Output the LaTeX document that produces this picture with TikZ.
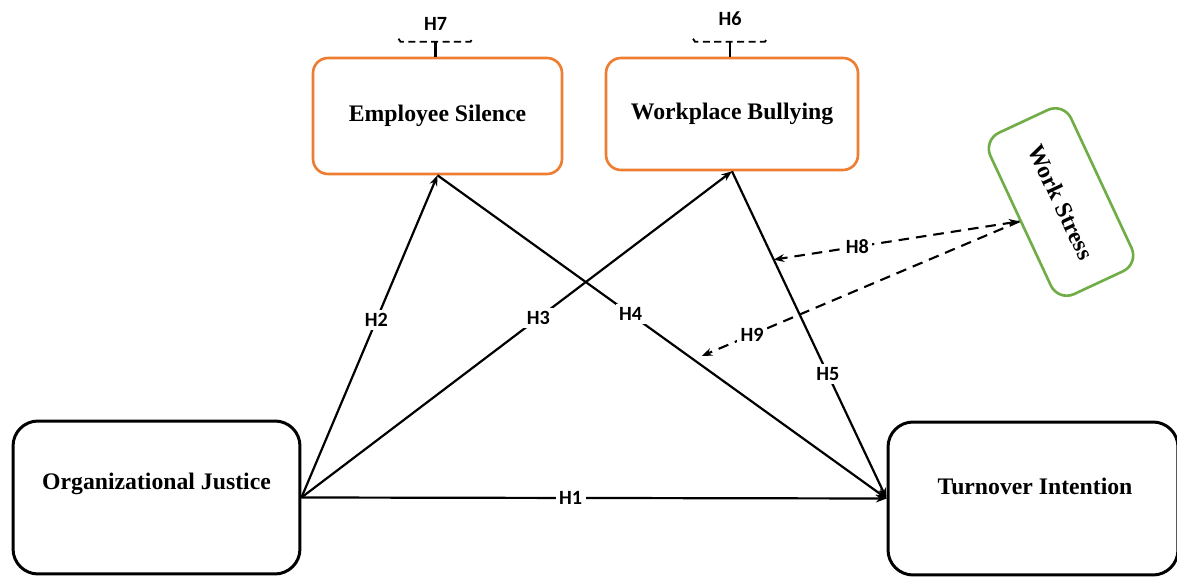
\documentclass[tikz,border=0pt]{standalone}
\usepackage{fontspec}
\setmainfont{Liberation Serif}
\newfontfamily\hfont{Carlito}
\usetikzlibrary{positioning,arrows.meta,calc}
\definecolor{silenceorange}{RGB}{237,125,49}
\definecolor{stressgreen}{RGB}{112,173,71}

\begin{document}
\begin{tikzpicture}[x=0.02cm, y=-0.02cm, >={Stealth[length=6pt,width=4.5pt]},
    boxtext/.style={font=\fontsize{13.5}{16}\selectfont\bfseries, inner sep=0pt},
    mainbox/.style={draw, line width=1.7pt, rounded corners=0.5cm},
    medbox/.style={draw=silenceorange, line width=1.5pt, rounded corners=0.3cm,
      font=\fontsize{13.5}{16}\selectfont\bfseries},
    stressbox/.style={draw=stressgreen, line width=1.5pt, rounded corners=0.35cm,
      minimum width=3.56cm, minimum height=1.78cm,
      font=\fontsize{13.5}{16}\selectfont\bfseries},
    path/.style={line width=1.25pt},
    modpath/.style={line width=1.2pt, dash pattern=on 6pt off 4pt},
    bracket/.style={line width=1pt, dash pattern=on 4pt off 2.5pt},
    hlabel/.style={fill=white, inner sep=2pt, font=\hfont\bfseries\fontsize{11.5}{13}\selectfont}]
  \useasboundingbox (0,0) rectangle (1177,577);

  % constructs
  \node[mainbox, minimum width=5.74cm, minimum height=3.06cm] (oj) at (156.5,497.5) {};
  \node[boxtext] (ojtext) at ($(oj.center)+(0,-14)$) {Organizational Justice};
  \node[mainbox, minimum width=5.8cm, minimum height=3.06cm] (ti) at (1033,498.5) {};
  \node[boxtext] (titext) at ($(ti.center)+(2,-12)$) {Turnover Intention};
  \node[medbox, minimum width=4.98cm, minimum height=2.32cm] (es) at (437.5,116) {Employee Silence};
  \node[medbox, minimum width=5.04cm, minimum height=2.24cm] (wb) at (732,114) {Workplace Bullying};
  \node[stressbox, rotate=-65] (ws) at (1061,202) {Work Stress};

  % direct paths
  \draw[path, ->] (oj.east) -- node[hlabel, pos=0.46] {H1} (ti.west);
  \draw[path, ->] (oj.east) -- node[hlabel, pos=0.55] {H2} (es.south);
  \draw[path, ->] (oj.east) -- node[hlabel, pos=0.55] {H3} (wb.south);
  \draw[path, ->] (es.south) -- node[hlabel, pos=0.43] {H4} (ti.west);
  \draw[path, ->] (wb.south) -- node[hlabel, pos=0.62] {H5} (ti.west);

  % moderation by work stress
  \coordinate (h8end) at ($(wb.south)!0.27!(ti.west)$);
  \coordinate (h9end) at ($(es.south)!0.57!(ti.west)$);
  \draw[modpath, <->] (ws.south) -- node[hlabel, pos=0.66] {H8} (h8end);
  \draw[modpath, ->, shorten >=0.18cm] (ws.south) -- node[hlabel, pos=0.82] {H9} (h9end);

  % mediation brackets
  \coordinate (h7top) at ($(es.north)+(-2,-15)$);
  \draw[path] (es.north -| h7top) -- (h7top);
  \draw[bracket] ($(h7top)+(-37,-3)$) -- ++(2,3) -- ++(70,0) -- ++(2,-3);
  \node[hlabel] (h7) at ($(h7top)+(0,-18)$) {H7};
  \coordinate (h6top) at ($(wb.north)+(-2,-15)$);
  \draw[path] (wb.north -| h6top) -- (h6top);
  \draw[bracket] ($(h6top)+(-37,-3)$) -- ++(2,3) -- ++(70,0) -- ++(2,-3);
  \node[hlabel] (h6) at ($(h6top)+(0,-23)$) {H6};
\end{tikzpicture}
\end{document}
